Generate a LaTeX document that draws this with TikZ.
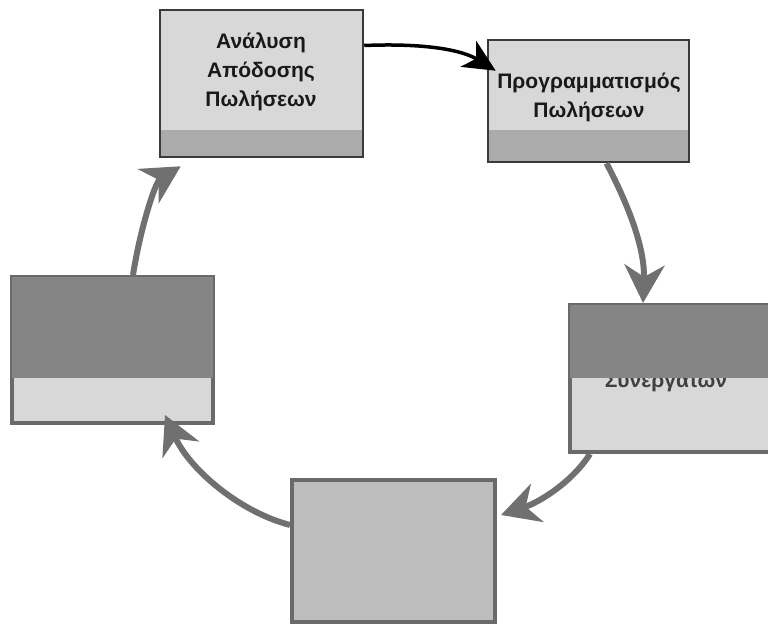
\documentclass[tikz,border=0pt]{standalone}
\usepackage{fontspec}
\setmainfont{Liberation Sans}
\usetikzlibrary{arrows.meta}
\definecolor{boxlight}{HTML}{D8D8D8}
\definecolor{boxline}{HTML}{3A3A3A}
\definecolor{noisyline}{HTML}{6A6A6A}
\definecolor{stripgrey}{HTML}{ABABAB}
\definecolor{darkarea}{HTML}{858585}
\definecolor{midfill}{HTML}{BDBDBD}
\definecolor{arrowgrey}{HTML}{707070}
\tikzset{
  topbox/.style={draw=boxline, line width=2.5pt, fill=boxlight, minimum width=#1, inner sep=0pt},
  lowbox/.style={draw=noisyline, line width=4pt, fill=boxlight, inner sep=0pt},
  label/.style={font=\bfseries\fontsize{21}{29}\selectfont, align=center, text=black!90},
  grayarrow/.style={draw=arrowgrey, line width=6pt, -{Stealth[length=38pt,width=40pt,inset=12pt]}},
  blackarrow/.style={draw=black, line width=3.5pt, -{Stealth[length=32pt,width=30pt,inset=9pt]}}
}
\begin{document}
\begin{tikzpicture}[x=1pt,y=-1pt]
\useasboundingbox (0,0) rectangle (768,626);
% Box 1
\node[topbox=203pt, minimum height=147pt,
  path picture={\fill[stripgrey] (path picture bounding box.south west) rectangle ([yshift=27pt]path picture bounding box.south east);}]
  (b1) at (261.5,83.5) {};
\node[label] (t1) at (261,72) {Ανάλυση\\Απόδοσης\\Πωλήσεων};
% Box 2
\node[topbox=201pt, minimum height=122pt,
  path picture={\fill[stripgrey] (path picture bounding box.south west) rectangle ([yshift=32pt]path picture bounding box.south east);}]
  (b2) at (588.5,101) {};
\node[label] (t2) at (589,97) {Προγραμματισμός\\Πωλήσεων};
% Box 3 (right, cut by edge)
\node[lowbox, minimum width=206pt, minimum height=147pt] (b3) at (673,378.5) {};
\node[label, text=black!75] (t3) at (666,382) {Συνεργατών};
\fill[darkarea] ([xshift=2pt,yshift=-2pt]b3.north west) rectangle ([xshift=-2pt,yshift=-75pt]b3.north east);
% Box 4 (left)
\node[lowbox, minimum width=201pt, minimum height=146pt] (b4) at (112.5,350) {};
\fill[darkarea] ([xshift=2pt,yshift=-2pt]b4.north west) rectangle ([xshift=-2pt,yshift=-103pt]b4.north east);
% Box 5 (bottom)
\node[lowbox, fill=midfill, minimum width=203pt, minimum height=142pt] (b5) at (393.5,551) {};
% Arrows
\draw[blackarrow] ([yshift=38pt]b1.east) .. controls (425,43) and (462,50) .. ([xshift=9pt,yshift=-32pt]b2.north west);
\draw[grayarrow] ([xshift=18pt]b2.south) .. controls (632,212) and (645,252) .. ([xshift=-30pt]b3.north);
\draw[grayarrow] ([xshift=22pt]b3.south west) .. controls (572,482) and (540,502) .. ([xshift=4pt,yshift=-37pt]b5.north east);
\draw[grayarrow] ([yshift=-47pt]b5.north west) .. controls (240,512) and (190,470) .. ([xshift=-50pt,yshift=10pt]b4.south east);
\draw[grayarrow] ([xshift=123pt]b4.north west) .. controls (140,230) and (155,182) .. ([xshift=22pt,yshift=-8pt]b1.south west);
\end{tikzpicture}
\end{document}
